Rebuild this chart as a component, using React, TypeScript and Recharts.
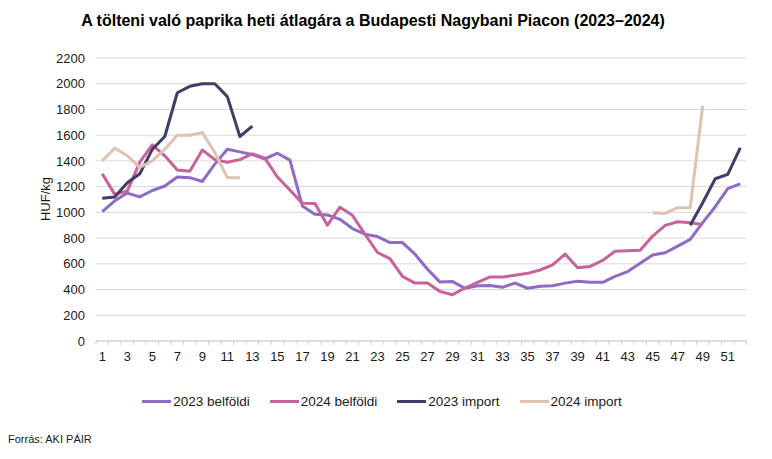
import React from 'react';
import { LineChart, Line, XAxis, YAxis, CartesianGrid, Legend } from 'recharts';

const weeks = [
    1, 2, 3, 4, 5, 6, 7, 8, 9, 10, 11, 12, 13, 14, 15, 16, 17, 18, 19, 20, 21, 22, 23, 24, 25, 26,
    27, 28, 29, 30, 31, 32, 33, 34, 35, 36, 37, 38, 39, 40, 41, 42, 43, 44, 45, 46, 47, 48, 49, 50, 51, 52,
];

const belfoldi2023 = [
    1005, 1090, 1150, 1120, 1170, 1205, 1275, 1270, 1240, 1375, 1490, 1470, 1450, 1415, 1460, 1406, 1050, 985, 980, 946,
    874, 830, 812, 765, 765, 675, 558, 458, 462, 410, 430, 432, 418, 450, 410, 425, 430, 450, 465, 456,
    456, 503, 540, 605, 668, 686, 738, 790, 920, 1044, 1184, 1222,
];

const belfoldi2024 = [
    1300, 1140, 1165, 1390, 1525, 1440, 1330, 1320, 1485, 1410, 1390, 1410, 1455, 1422, 1275, 1174, 1070, 1068, 900, 1040,
    977, 830, 688, 640, 502, 450, 450, 385, 360, 412, 456, 498, 498, 511, 526, 552, 591, 676, 570, 580,
    627, 697, 702, 705, 816, 899, 927, 919, 906, null, null, null,
];

const import2023 = [
    1110, 1120, 1230, 1300, 1490, 1590, 1930, 1980, 2000, 2000, 1900, 1590, 1670, null, null, null, null, null, null, null,
    null, null, null, null, null, null, null, null, null, null, null, null, null, null, null, null, null, null, null, null,
    null, null, null, null, null, null, null, 900, 1075, 1261, 1295, 1502,
];

const import2024 = [
    1400, 1500, 1440, 1350, 1400, 1490, 1600, 1600, 1620, 1465, 1270, 1270, null, null, null, null, null, null, null, null,
    null, null, null, null, null, null, null, null, null, null, null, null, null, null, null, null, null, null, null, null,
    null, null, null, null, 997, 992, 1036, 1036, 1831, null, null, null,
];

const yTicks = [0, 200, 400, 600, 800, 1000, 1200, 1400, 1600, 1800, 2000, 2200];

const series = [
    { key: 'b2023', name: '2023 belföldi', color: '#8E6CC6' },
    { key: 'b2024', name: '2024 belföldi', color: '#C8629A' },
    { key: 'i2023', name: '2023 import', color: '#423C66' },
    { key: 'i2024', name: '2024 import', color: '#DDC3B0' },
];

const data = weeks.map((w, i) => ({
    week: w,
    b2023: belfoldi2023[i],
    b2024: belfoldi2024[i],
    i2023: import2023[i],
    i2024: import2024[i],
}));

const FONT = 'Arial, "Liberation Sans", sans-serif';
const HALF_BAND = 6.25;

const WeekTick = ({ x, y, payload, index }: any) => {
    const isLast = index === weeks.length - 1;
    return (
        <g>
            <line x1={x - HALF_BAND} x2={x - HALF_BAND} y1={y} y2={y + 4} stroke="#D0D0D0" />
            {isLast && <line x1={x + HALF_BAND} x2={x + HALF_BAND} y1={y} y2={y + 4} stroke="#D0D0D0" />}
            {payload.value % 2 === 1 && (
                <text x={x} y={y + 20} textAnchor="middle" fill="#1a1a1a" fontSize={13} fontFamily={FONT}>
                    {payload.value}
                </text>
            )}
        </g>
    );
};

const LegendContent = () => (
    <div style={{ display: 'flex', justifyContent: 'center', height: 24, alignItems: 'center', fontFamily: FONT, fontSize: 13.5, color: '#1a1a1a', paddingRight: 8 }}>
        {series.map((s) => (
            <div key={s.key} style={{ display: 'flex', alignItems: 'center', marginLeft: 10, marginRight: 10 }}>
                <span style={{ display: 'inline-block', width: 29, height: 3, background: s.color, marginRight: 2 }} />
                <span>{s.name}</span>
            </div>
        ))}
    </div>
);

const App = () => {
    return (
        <div style={{ position: 'absolute', left: 0, top: 0, width: 772, height: 459, background: '#fff', fontFamily: FONT }}>
            <div style={{ position: 'absolute', left: 0, top: 12, width: 746, textAlign: 'center', fontSize: 16, fontWeight: 'bold', color: '#000' }}>
                A tölteni való paprika heti átlagára a Budapesti Nagybani Piacon (2023–2024)
            </div>
            <div style={{ position: 'absolute', left: 45, top: 199, fontSize: 13, color: '#1a1a1a', transform: 'translate(-50%, -50%) rotate(-90deg)', whiteSpace: 'nowrap' }}>
                HUF/kg
            </div>
            <div style={{ position: 'absolute', left: 8, top: 433, fontSize: 11, color: '#1a1a1a' }}>
                Forrás: AKI PÁIR
            </div>
            <LineChart width={772} height={459} data={data} margin={{ top: 58, right: 25.5, bottom: 64, left: 0 }}>
                <CartesianGrid vertical={false} stroke="#D9D9D9" />
                <XAxis
                    dataKey="week"
                    interval={0}
                    padding={{ left: HALF_BAND, right: HALF_BAND }}
                    tickLine={false}
                    tickSize={0}
                    tickMargin={0}
                    height={30}
                    stroke="#D0D0D0"
                    tick={<WeekTick />}
                />
                <YAxis
                    domain={[0, 2200]}
                    ticks={yTicks}
                    width={96}
                    axisLine={false}
                    tickLine={false}
                    tickSize={0}
                    tickMargin={11}
                    tick={{ fill: '#1a1a1a', fontSize: 13, fontFamily: FONT }}
                />
                <Legend verticalAlign="bottom" content={<LegendContent />} wrapperStyle={{ top: 389, bottom: 'auto', left: 0, width: 772 }} />
                {series.map((s) => (
                    <Line
                        key={s.key}
                        type="linear"
                        dataKey={s.key}
                        name={s.name}
                        stroke={s.color}
                        strokeWidth={3}
                        dot={false}
                        activeDot={false}
                        strokeLinejoin="round"
                        isAnimationActive={false}
                    />
                ))}
            </LineChart>
        </div>
    );
};

export default App;
